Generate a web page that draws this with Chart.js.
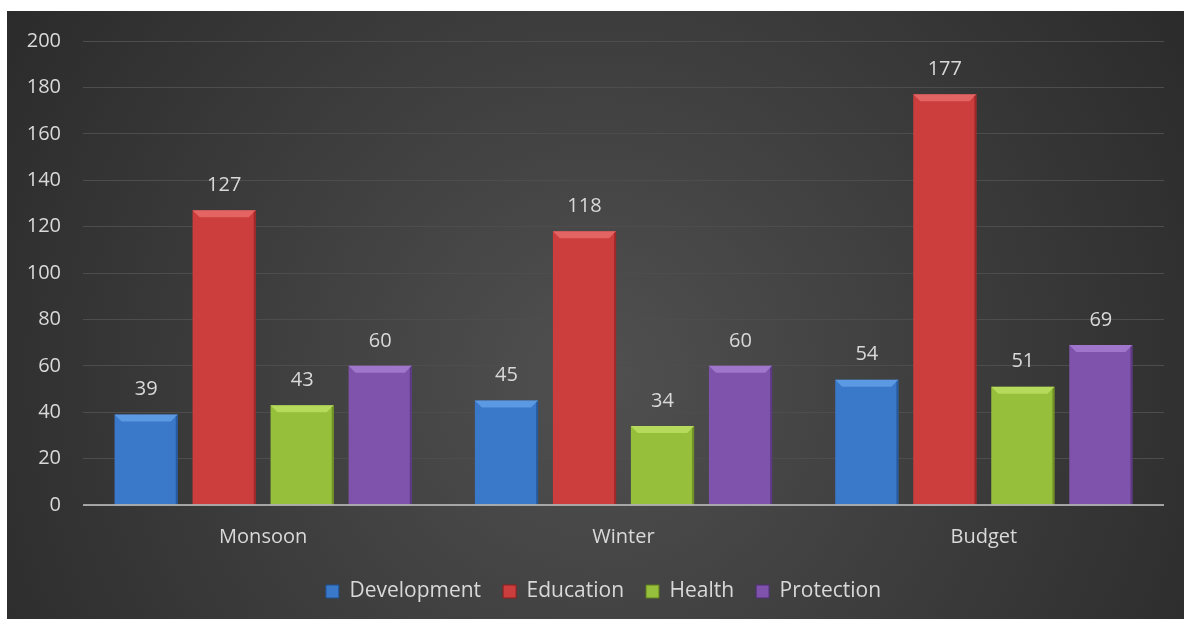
<!DOCTYPE html>
<html>
<head>
<meta charset="utf-8">
<script src="https://cdn.jsdelivr.net/npm/chart.js"></script>
<style>
  html, body { margin: 0; padding: 0; background: #fff; }
  #wrap { position: absolute; left: 7px; top: 11px; width: 1177px; height: 608px; }
</style>
</head>
<body>
<div id="wrap"><canvas id="myChart"></canvas></div>
<script>
const categories = ['Monsoon', 'Winter', 'Budget'];
const development = [39, 45, 54];
const education = [127, 118, 177];
const health = [43, 34, 51];
const protection = [60, 60, 69];
const seriesNames = ['Development', 'Education', 'Health', 'Protection'];

// base, light, dark per series
const colors = [
  ['#3a78c9', '#6aa6ec', '#1f4f8e'],
  ['#cc3d3d', '#ee7373', '#8e1f1f'],
  ['#96bf3b', '#c3e66a', '#5f7d1e'],
  ['#7f53ac', '#ad86d8', '#4f2f73']
];
const FONT = '"Open Sans"';

function barFill(i) {
  return function (c) {
    const el = c.element;
    const ch = c.chart;
    if (!el || !ch.chartArea || isNaN(el.x)) return colors[i][0];
    const w = el.width || 60;
    const g = ch.ctx.createLinearGradient(el.x - w / 2, 0, el.x + w / 2, 0);
    g.addColorStop(0, colors[i][2]);
    g.addColorStop(0.08, colors[i][0]);
    g.addColorStop(0.5, colors[i][0]);
    g.addColorStop(0.9, colors[i][0]);
    g.addColorStop(1, colors[i][2]);
    return g;
  };
}

const bgPlugin = {
  id: 'bg',
  beforeDraw(chart) {
    const { ctx, width, height } = chart;
    const g = ctx.createRadialGradient(width * 0.5, height * 0.6, 20, width * 0.5, height * 0.6, width * 0.65);
    g.addColorStop(0, '#4f4f4f');
    g.addColorStop(1, '#272727');
    ctx.save();
    ctx.fillStyle = g;
    ctx.fillRect(0, 0, width, height);
    ctx.restore();
  }
};

// legend sits a bit right of centre in the original
const legendShift = {
  id: 'legendShift',
  afterLayout(chart) {
    chart.legend.left += 18;
    chart.legend.right += 18;
  }
};

// top bevel on each bar
const bevelPlugin = {
  id: 'bevel',
  afterDatasetsDraw(chart) {
    const ctx = chart.ctx;
    chart.data.datasets.forEach((ds, i) => {
      chart.getDatasetMeta(i).data.forEach(bar => {
        const l = bar.x - bar.width / 2, r = bar.x + bar.width / 2;
        const t = bar.y, b = bar.base;
        const d = Math.min(7, (b - t) / 2);
        ctx.save();
        ctx.fillStyle = colors[i][1];
        ctx.globalAlpha = 0.7;
        ctx.beginPath();
        ctx.moveTo(l, t); ctx.lineTo(r, t); ctx.lineTo(r - d, t + d); ctx.lineTo(l + d, t + d);
        ctx.closePath(); ctx.fill();
        ctx.fillStyle = colors[i][2];
        ctx.globalAlpha = 0.7;
        ctx.beginPath();
        ctx.moveTo(r, t); ctx.lineTo(r, b); ctx.lineTo(r - 2, b); ctx.lineTo(r - 2, t + 2);
        ctx.closePath(); ctx.fill();
        ctx.restore();
      });
    });
  }
};

const labelPlugin = {
  id: 'valueLabels',
  afterDatasetsDraw(chart) {
    const ctx = chart.ctx;
    ctx.save();
    ctx.font = '20px ' + FONT;
    ctx.fillStyle = '#d9d9d9';
    ctx.textAlign = 'center';
    ctx.textBaseline = 'middle';
    chart.data.datasets.forEach((ds, i) => {
      chart.getDatasetMeta(i).data.forEach((bar, j) => {
        ctx.fillText(ds.data[j], bar.x, bar.y - 25);
      });
    });
    ctx.restore();
  }
};

// axis line at zero, drawn after bars
const zeroLinePlugin = {
  id: 'zeroLine',
  afterDatasetsDraw(chart) {
    const { ctx, chartArea } = chart;
    const y = chart.scales.y.getPixelForValue(0);
    ctx.save();
    ctx.strokeStyle = 'rgba(190,190,190,0.8)';
    ctx.lineWidth = 2;
    ctx.beginPath();
    ctx.moveTo(chartArea.left, y);
    ctx.lineTo(chartArea.right, y);
    ctx.stroke();
    ctx.restore();
  }
};

const seriesData = [development, education, health, protection];

var ctx = document.getElementById('myChart');
var myChart = new Chart(ctx, {
  type: 'bar',
  data: {
    labels: categories,
    datasets: seriesNames.map((name, i) => ({
      label: name,
      data: seriesData[i],
      backgroundColor: barFill(i),
      borderWidth: 0,
      categoryPercentage: 0.866,
      barPercentage: 0.81
    }))
  },
  options: {
    responsive: true,
    maintainAspectRatio: false,
    animation: false,
    layout: { padding: { top: 30, right: 20, left: 0, bottom: 7 } },
    plugins: {
      tooltip: { enabled: false },
      legend: {
        position: 'bottom',
        labels: {
          color: '#d9d9d9',
          font: { family: FONT, size: 21 },
          boxWidth: 13,
          boxHeight: 13,
          padding: 22,
          generateLabels(chart) {
            return chart.data.datasets.map((ds, i) => ({
              text: ds.label,
              fillStyle: colors[i][0],
              strokeStyle: colors[i][2],
              lineWidth: 1,
              fontColor: '#d9d9d9',
              datasetIndex: i
            }));
          }
        }
      }
    },
    scales: {
      x: {
        afterFit(scale) { scale.height = 54; },
        grid: { display: false, drawTicks: false },
        border: { display: false },
        ticks: { color: '#d9d9d9', font: { family: FONT, size: 20 }, padding: 20 }
      },
      y: {
        min: 0,
        max: 200,
        afterFit(scale) {
          scale.width = 76;
          scale.paddingTop = 0;
          scale.paddingBottom = 0;
        },
        grid: { color: '#4d4d4d', lineWidth: 1, drawTicks: false },
        border: { display: false },
        ticks: { stepSize: 20, color: '#d9d9d9', font: { family: FONT, size: 20 }, padding: 22 }
      }
    }
  },
  plugins: [bgPlugin, legendShift, bevelPlugin, labelPlugin, zeroLinePlugin]
});
</script>
</body>
</html>
